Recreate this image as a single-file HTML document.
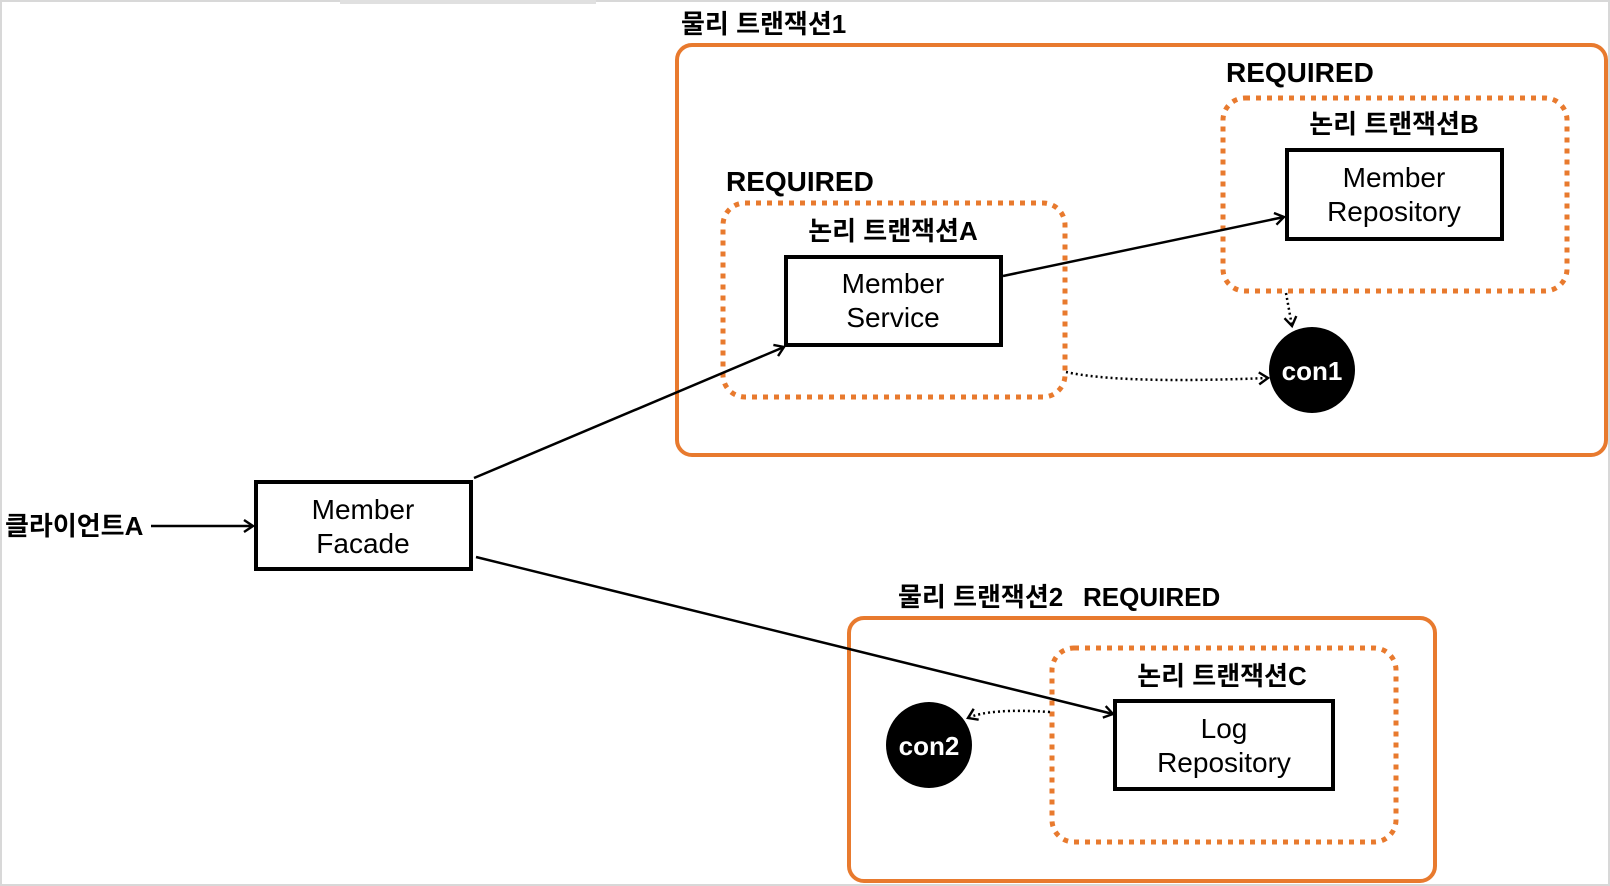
<!DOCTYPE html>
<html><head><meta charset="utf-8"><style>
html,body{margin:0;padding:0;background:#fff}
svg{display:block}
text{font-family:"Liberation Sans","Noto Sans CJK KR",sans-serif}
</style></head><body>
<svg width="1610" height="886" viewBox="0 0 1610 886" xmlns="http://www.w3.org/2000/svg">
<defs>
<marker id="ah" markerWidth="14" markerHeight="14" refX="11" refY="7" orient="auto" markerUnits="userSpaceOnUse">
<path d="M2,1 L11,7 L2,13" fill="none" stroke="#000" stroke-width="2.4"/>
</marker>
</defs>
<rect x="1" y="1" width="1608" height="884" fill="none" stroke="#d8d8d8" stroke-width="2"/>
<rect x="340" y="0" width="256" height="4" fill="#e0e0e0"/>

<!-- physical tx 1 -->
<text x="681" y="33" font-size="26" font-weight="bold">물리 트랜잭션1</text>
<rect x="677" y="45" width="929" height="410" rx="15" fill="none" stroke="#e87a2e" stroke-width="4"/>
<text x="1226" y="82" font-size="28" font-weight="bold">REQUIRED</text>
<rect x="1223" y="98" width="344" height="193" rx="22" fill="none" stroke="#e87a2e" stroke-width="5" stroke-dasharray="5,6"/>
<text x="1394" y="133" font-size="26" font-weight="bold" text-anchor="middle">논리 트랜잭션B</text>
<rect x="1287" y="150" width="215" height="89" fill="#fff" stroke="#000" stroke-width="4"/>
<text x="1394" y="187" font-size="28" text-anchor="middle">Member</text>
<text x="1394" y="221" font-size="28" text-anchor="middle">Repository</text>

<text x="726" y="191" font-size="28" font-weight="bold">REQUIRED</text>
<rect x="723" y="203" width="342" height="194" rx="22" fill="none" stroke="#e87a2e" stroke-width="5" stroke-dasharray="5,6"/>
<text x="893" y="240" font-size="26" font-weight="bold" text-anchor="middle">논리 트랜잭션A</text>
<rect x="786" y="257" width="215" height="88" fill="#fff" stroke="#000" stroke-width="4"/>
<text x="893" y="293" font-size="28" text-anchor="middle">Member</text>
<text x="893" y="327" font-size="28" text-anchor="middle">Service</text>

<circle cx="1312" cy="370" r="43" fill="#000"/>
<text x="1312" y="380" font-size="26" font-weight="bold" fill="#fff" text-anchor="middle">con1</text>

<!-- physical tx 2 -->
<text x="898" y="606" font-size="26" font-weight="bold">물리 트랜잭션2</text>
<text x="1083" y="606" font-size="26" font-weight="bold">REQUIRED</text>
<rect x="849" y="618" width="586" height="263" rx="15" fill="none" stroke="#e87a2e" stroke-width="4"/>
<rect x="1052" y="648" width="344" height="194" rx="22" fill="none" stroke="#e87a2e" stroke-width="5" stroke-dasharray="5,6"/>
<text x="1222" y="685" font-size="26" font-weight="bold" text-anchor="middle">논리 트랜잭션C</text>
<rect x="1115" y="701" width="218" height="88" fill="#fff" stroke="#000" stroke-width="4"/>
<text x="1224" y="738" font-size="28" text-anchor="middle">Log</text>
<text x="1224" y="772" font-size="28" text-anchor="middle">Repository</text>
<circle cx="929" cy="745" r="43" fill="#000"/>
<text x="929" y="755" font-size="26" font-weight="bold" fill="#fff" text-anchor="middle">con2</text>

<!-- facade -->
<text x="5" y="535" font-size="26" font-weight="bold">클라이언트A</text>
<rect x="256" y="482" width="215" height="87" fill="#fff" stroke="#000" stroke-width="4"/>
<text x="363" y="519" font-size="28" text-anchor="middle">Member</text>
<text x="363" y="553" font-size="28" text-anchor="middle">Facade</text>

<!-- arrows -->
<line x1="151" y1="526" x2="253" y2="526" stroke="#000" stroke-width="2.5" marker-end="url(#ah)"/>
<line x1="474" y1="478" x2="784" y2="347" stroke="#000" stroke-width="2.5" marker-end="url(#ah)"/>
<line x1="476" y1="557" x2="1113" y2="714" stroke="#000" stroke-width="2.5" marker-end="url(#ah)"/>
<line x1="1003" y1="276" x2="1284" y2="217" stroke="#000" stroke-width="2.5" marker-end="url(#ah)"/>
<path d="M1066,372 Q1120,384 1268,378" fill="none" stroke="#000" stroke-width="2.5" stroke-dasharray="2,3" marker-end="url(#ah)"/>
<path d="M1286,293 L1292,326" fill="none" stroke="#000" stroke-width="2.5" stroke-dasharray="2,3" marker-end="url(#ah)"/>
<path d="M1050,712 Q990,708 968,718" fill="none" stroke="#000" stroke-width="2.5" stroke-dasharray="2,3" marker-end="url(#ah)"/>
</svg>
</body></html>
